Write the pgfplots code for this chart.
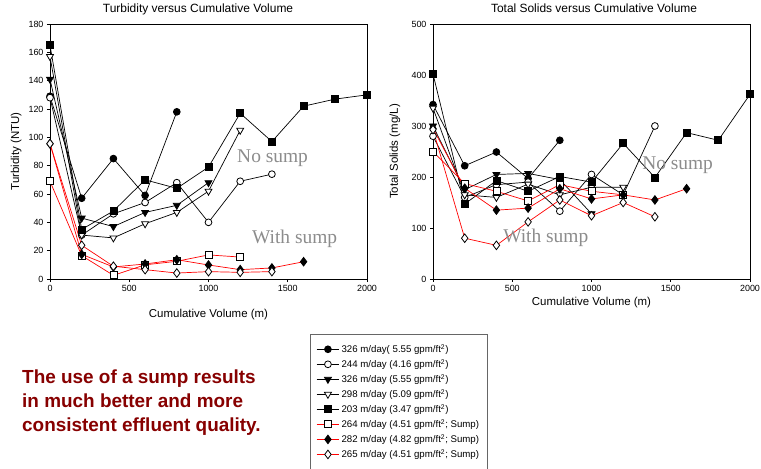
\documentclass[border=0pt]{standalone}
\usepackage{pgfplots}
\pgfplotsset{compat=1.18}
\usepackage{fontspec}
\setmainfont{Liberation Sans}
\newfontfamily\seriffont{Liberation Serif}
\definecolor{annot}{RGB}{140,140,140}
\definecolor{darkred}{RGB}{135,0,0}
\pgfplotsset{
 mystyle/.style={
  scale only axis, width=317bp, height=255bp,
  xmin=0, xmax=2000, xtick={0,500,1000,1500,2000},
  tick align=outside, xtick pos=bottom, ytick pos=left,
  major tick length=3bp,
  tick label style={font=\fontsize{9}{10}\selectfont},
  label style={font=\fontsize{11.5}{13}\selectfont},
  title style={font=\fontsize{12}{13}\selectfont, anchor=base},
  axis line style={line width=0.7bp},
  every tick/.style={black, line width=0.7bp},
  scaled ticks=false,
  /pgf/number format/1000 sep={},
  /pgf/number format/assume math mode=true,
  clip=false,
 },
 base/.style={line width=0.7bp, mark size=3.4bp},
 s1/.style={base, black, mark=*, mark options={fill=black, draw=black, line width=0.8bp}},
 s2/.style={base, black, mark=*, mark options={fill=white, draw=black, line width=0.8bp}},
 s3/.style={base, black, mark=triangle*, mark size=4bp, mark options={rotate=180, fill=black, draw=black, line width=0.8bp}},
 s4/.style={base, black, mark=triangle*, mark size=4bp, mark options={rotate=180, fill=white, draw=black, line width=0.8bp}},
 s5/.style={base, black, mark=square*, mark size=3.5bp, mark options={fill=black, draw=black, line width=0.8bp}},
 s6/.style={base, red, mark=square*, mark size=3.5bp, mark options={fill=white, draw=black, line width=0.8bp}},
 s7/.style={base, red, mark=diamond*, mark size=4.3bp, mark options={fill=black, draw=black, line width=0.8bp}},
 s8/.style={base, red, mark=diamond*, mark size=4.3bp, mark options={fill=white, draw=black, line width=0.8bp}},
}
\begin{document}
\begin{tikzpicture}
\path[use as bounding box] (0,0) rectangle (761bp,469bp);
% ---------------- Left: Turbidity ----------------
\begin{axis}[mystyle, at={(50bp,190bp)}, anchor=south west,
  ymin=0, ymax=180, ytick={0,20,...,180},
  title={Turbidity versus Cumulative Volume},
  title style={at={(axis description cs:0.467,1)}, yshift=5.7bp},
  xlabel={Cumulative Volume (m)}, ylabel={Turbidity (NTU)},
  xlabel style={at={(axis description cs:0.5,-0.141)}, anchor=center},
  ylabel style={at={(axis description cs:-0.107,0.5)}, anchor=center},
  legend cell align=left,
  legend image code/.code={\draw[mark repeat=2,mark phase=2] plot coordinates {(0cm,0cm) (0.4cm,0cm) (0.8cm,0cm)};},
  legend style={at={(axis description cs:0.820,-0.216)}, anchor=north west,
    draw=gray!80!black, line width=0.6bp, font=\fontsize{9.7}{11}\selectfont,
    row sep=1.2bp, inner xsep=6bp, inner ysep=8bp},
]
\addplot[s1] coordinates {(0,129) (200,57) (400,85) (600,59) (800,118)};
\addlegendentry{326 m/day( 5.55 gpm/ft\textsuperscript{2})}
\addplot[s2] coordinates {(0,128) (200,31) (400,46) (600,54) (800,68) (1000,40) (1200,69) (1400,74)};
\addlegendentry{244 m/day (4.16 gpm/ft\textsuperscript{2})}
\addplot[s3] coordinates {(0,141) (200,43) (400,37) (600,47) (800,52) (1000,68)};
\addlegendentry{326 m/day (5.55 gpm/ft\textsuperscript{2})}
\addplot[s4] coordinates {(0,157) (200,31) (400,29) (600,39) (800,47) (1000,62) (1200,105)};
\addlegendentry{298 m/day (5.09 gpm/ft\textsuperscript{2})}
\addplot[s5] coordinates {(0,165) (200,35) (400,48) (600,70) (800,64) (1000,79) (1200,117) (1400,97) (1600,122) (1800,127) (2000,130)};
\addlegendentry{203 m/day (3.47 gpm/ft\textsuperscript{2})}
\addplot[s6] coordinates {(0,69) (200,16.5) (400,2.6) (600,10) (800,12.5) (1000,17) (1200,15.5)};
\addlegendentry{264 m/day (4.51 gpm/ft\textsuperscript{2}; Sump)}
\addplot[s7] coordinates {(0,95.5) (200,17.4) (400,8.5) (600,10.6) (800,13.6) (1000,9.9) (1200,6.6) (1400,7.8) (1600,12.2)};
\addlegendentry{282 m/day (4.82 gpm/ft\textsuperscript{2}; Sump)}
\addplot[s8] coordinates {(0,95.5) (200,23.8) (400,9) (600,6.6) (800,4.2) (1000,5.2) (1200,4.7) (1400,5.2)};
\addlegendentry{265 m/day (4.51 gpm/ft\textsuperscript{2}; Sump)}
\node[anchor=base west, inner sep=0, text=annot, font=\seriffont\fontsize{19.5}{20}\selectfont] at (axis cs:1180,82) {No sump};
\node[anchor=base west, inner sep=0, text=annot, font=\seriffont\fontsize{19.5}{20}\selectfont] at (axis cs:1274,25.4) {With sump};
\end{axis}
% ---------------- Right: Total Solids ----------------
\begin{axis}[mystyle, at={(433bp,190bp)}, anchor=south west,
  ymin=0, ymax=500, ytick={0,100,...,500},
  title={Total Solids versus Cumulative Volume},
  title style={at={(axis description cs:0.508,1)}, yshift=5.7bp},
  xlabel={Cumulative Volume (m)}, ylabel={Total Solids (mg/L)},
  xlabel style={at={(axis description cs:0.5,-0.094)}, anchor=center},
  ylabel style={at={(axis description cs:-0.12,0.5)}, anchor=center},
]
\addplot[s1] coordinates {(0,342) (200,222) (400,249) (600,197) (800,272)};
\addplot[s2] coordinates {(0,280) (200,160) (400,185) (600,190) (800,133) (1000,205) (1200,165) (1400,300)};
\addplot[s3] coordinates {(0,300) (200,175) (400,205) (600,207) (800,195) (1000,128)};
\addplot[s4] coordinates {(0,335) (200,165) (400,160) (600,186) (800,165) (1000,180) (1200,180)};
\addplot[s5] coordinates {(0,402) (200,147) (400,193) (600,172) (800,201) (1000,190) (1200,266) (1400,199) (1600,287) (1800,272) (2000,362)};
\addplot[s6] coordinates {(0,250) (200,187) (400,172) (600,153) (800,185) (1000,172) (1200,165)};
\addplot[s7] coordinates {(0,295) (200,178) (400,135) (600,139) (800,177) (1000,157) (1200,165) (1400,155) (1600,177)};
\addplot[s8] coordinates {(0,293) (200,80) (400,66) (600,112) (800,155) (1000,124) (1200,150) (1400,122)};
\node[anchor=base west, inner sep=0, text=annot, font=\seriffont\fontsize{19.5}{20}\selectfont] at (axis cs:1319,214) {No sump};
\node[anchor=base west, inner sep=0, text=annot, font=\seriffont\fontsize{19.5}{20}\selectfont] at (axis cs:442,71) {With sump};
\end{axis}
% ---------------- Annotation ----------------
\node[anchor=base west, inner sep=0, text=darkred, font=\bfseries\fontsize{19}{20}\selectfont] at (22bp,85bp) {The use of a sump results};
\node[anchor=base west, inner sep=0, text=darkred, font=\bfseries\fontsize{19}{20}\selectfont] at (22bp,61bp) {in much better and more};
\node[anchor=base west, inner sep=0, text=darkred, font=\bfseries\fontsize{19}{20}\selectfont] at (22bp,37.3bp) {consistent effluent quality.};
\end{tikzpicture}
\end{document}
